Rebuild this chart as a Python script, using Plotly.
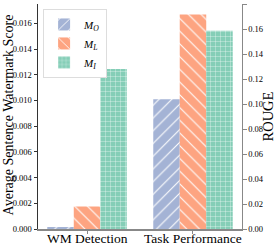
import plotly.graph_objects as go

categories = ["WM Detection", "Task Performance"]
series = ["M_O", "M_L", "M_I"]
legend_names = ["<i>M</i><sub><i>O</i></sub>", "<i>M</i><sub><i>L</i></sub>", "<i>M</i><sub><i>I</i></sub>"]
wm_scores = [0.0001, 0.00175, 0.01245]      # left axis
rouge_scores = [0.1038, 0.1715, 0.1586]     # right axis
left_ticks = [0.000, 0.002, 0.004, 0.006, 0.008, 0.010, 0.012, 0.014, 0.016]
right_ticks = [0.00, 0.02, 0.04, 0.06, 0.08, 0.10, 0.12, 0.14, 0.16, 0.18]

colors = ["#a4b3d5", "#fda481", "#85ceb7"]
shapes = ["/", "\\", "+"]
psize = [9, 9, 5]
width = 0.25
offsets = [-0.375, -0.125, 0.125]

fig = go.Figure()
for i in range(3):
    pat = dict(shape=shapes[i], fgcolor="white", bgcolor=colors[i], size=psize[i], solidity=0.12, fillmode="replace")
    fig.add_trace(go.Bar(x=[0], y=[wm_scores[i]], name=legend_names[i], width=width, offset=offsets[i],
                         marker=dict(color=colors[i], pattern=pat, line=dict(width=0)),
                         yaxis="y", legendgroup=series[i], showlegend=True))
    fig.add_trace(go.Bar(x=[1], y=[rouge_scores[i]], name=legend_names[i], width=width, offset=offsets[i],
                         marker=dict(color=colors[i], pattern=pat, line=dict(width=0)),
                         yaxis="y2", legendgroup=series[i], showlegend=False))

font = "Liberation Serif, Times New Roman, serif"
L, R, T, B = 38, 32, 4, 16
PW = 274 - L - R
annotations = [
    dict(text="Average Sentence Watermark Score", xref="paper", yref="paper",
         x=(8 - L) / PW, y=0.505, textangle=-90, showarrow=False,
         font=dict(size=14), xanchor="center", yanchor="middle"),
    dict(text="ROUGE", xref="paper", yref="paper",
         x=(267 - L) / PW, y=0.5, textangle=-90, showarrow=False,
         font=dict(size=14.5), xanchor="center", yanchor="middle"),
]
for i, c in enumerate(categories):
    annotations.append(dict(text=c, xref="x", yref="paper", x=i, y=0, yanchor="top", xanchor="center",
                            yshift=-1, showarrow=False, font=dict(size=13.5), borderpad=0))

fig.update_layout(
    width=274, height=245,
    margin=dict(l=L, r=R, t=T, b=B, autoexpand=False),
    barmode="overlay",
    plot_bgcolor="white", paper_bgcolor="white",
    font=dict(family=font, size=8.5, color="black"),
    xaxis=dict(tickmode="array", tickvals=[0, 1], showticklabels=False, range=[-0.4625, 1.4625],
               showline=True, linecolor="#888888", linewidth=1.5, ticks="outside", ticklen=3,
               tickcolor="#888888", showgrid=False, zeroline=False, automargin=False),
    yaxis=dict(range=[0, 0.0175], tickvals=left_ticks, tickformat=".3f", showline=True,
               linecolor="#333333", linewidth=1, ticks="outside", ticklen=3.5, tickcolor="#333333",
               showgrid=False, zeroline=False, automargin=False),
    yaxis2=dict(range=[0, 0.18], tickvals=right_ticks, tickformat=".2f", overlaying="y", side="right",
                showline=True, linecolor="#888888", linewidth=1, ticks="outside", ticklen=3.5,
                tickcolor="#888888", showgrid=False, zeroline=False, automargin=False),
    legend=dict(x=0.025, y=0.978, xanchor="left", yanchor="top", bgcolor="white",
                bordercolor="#dddddd", borderwidth=1, font=dict(size=11),
                itemwidth=30, tracegroupgap=0),
    showlegend=True,
    annotations=annotations,
)

fig.write_html("out.html", config={"displayModeBar": False},
               post_script="document.body.style.margin='0';document.body.style.overflow='hidden';")
